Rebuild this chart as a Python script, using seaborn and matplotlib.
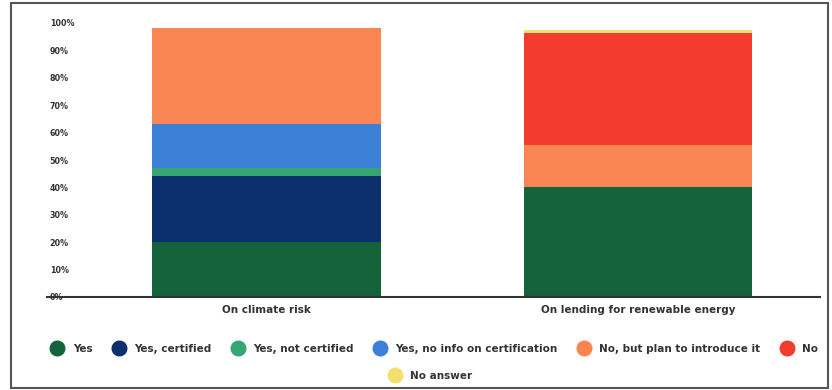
import numpy as np
import pandas as pd
import matplotlib
matplotlib.use('Agg')
import matplotlib.pyplot as plt
from matplotlib.lines import Line2D
from matplotlib.patches import Rectangle
import seaborn as sns

# Daten (in %)
kategorien = ['On climate risk', 'On lending for renewable energy']
antworten = ['Yes', 'Yes, certified', 'Yes, not certified', 'Yes, no info on certification',
             'No, but plan to introduce it', 'No', 'No answer']
werte_klima = [20, 24, 3, 16, 35, 0, 0]
werte_erneuerbar = [40, 0, 0, 0, 15.5, 41, 1]
farben = ['#14633a', '#0c2f6e', '#35a574', '#3b7fd6', '#f88552', '#f23d2e', '#f3df6e']
yticks = [0, 10, 20, 30, 40, 50, 60, 70, 80, 90, 100]

df = pd.DataFrame({'Kategorie': kategorien})
for i, a in enumerate(antworten):
    df[a] = [werte_klima[i], werte_erneuerbar[i]]

# kumulierte Summen fuer gestapelte Balken
kum = df[antworten].cumsum(axis=1)

sns.set_style('white')
plt.rcParams['font.family'] = ['DejaVu Sans']

fig = plt.figure(figsize=(8.32, 3.90), dpi=100)
ax = fig.add_axes([47 / 832, 93 / 390, 773 / 832, 274 / 390])

# von oben nach unten zeichnen, damit die kleineren Summen darueber liegen
for i in range(len(antworten) - 1, -1, -1):
    tmp = pd.DataFrame({'Kategorie': kategorien, 'wert': kum[antworten[i]].values})
    sns.barplot(data=tmp, x='Kategorie', y='wert', color=farben[i], width=0.615,
                saturation=1, ax=ax, linewidth=0)

ax.set_xlim(-0.59, 1.49)
ax.set_ylim(0, 100)
ax.set_yticks(yticks)
ax.set_yticklabels([f'{t}%' for t in yticks], fontsize=5.8, fontweight='bold', color='#333333')
for lab in ax.get_yticklabels():
    lab.set_horizontalalignment('left')
ax.tick_params(axis='y', length=0, pad=-2)
ax.tick_params(axis='x', length=0, pad=6)
for lab in ax.get_xticklabels():
    lab.set_fontsize(7.5)
    lab.set_fontweight('bold')
    lab.set_color('#333333')
ax.set_xlabel('')
ax.set_ylabel('')
for s in ['top', 'right', 'left']:
    ax.spines[s].set_visible(False)
ax.spines['bottom'].set_color('#333333')
ax.spines['bottom'].set_linewidth(1.5)

# Legende
handles = [Line2D([0], [0], marker='o', linestyle='none', markersize=10.5,
                  markerfacecolor=c, markeredgecolor=c) for c in farben]
leg1 = fig.legend(handles[:6], antworten[:6], loc='center', bbox_to_anchor=(0.52, 1 - 349 / 390),
                  ncol=6, frameon=False, handletextpad=0.5, columnspacing=1.5,
                  prop={'size': 7.5, 'weight': 'bold'})
leg2 = fig.legend(handles[6:], antworten[6:], loc='center', bbox_to_anchor=(0.515, 1 - 376 / 390),
                  ncol=1, frameon=False, handletextpad=0.5,
                  prop={'size': 7.5, 'weight': 'bold'})
for leg in (leg1, leg2):
    for t in leg.get_texts():
        t.set_color('#333333')

# Rahmen um die Grafik
fig.patches.append(Rectangle((11 / 832, 2 / 390), 817 / 832, 385 / 390, transform=fig.transFigure,
                             fill=False, edgecolor='#555555', linewidth=1.5))

fig.savefig('out.png', dpi=100)
